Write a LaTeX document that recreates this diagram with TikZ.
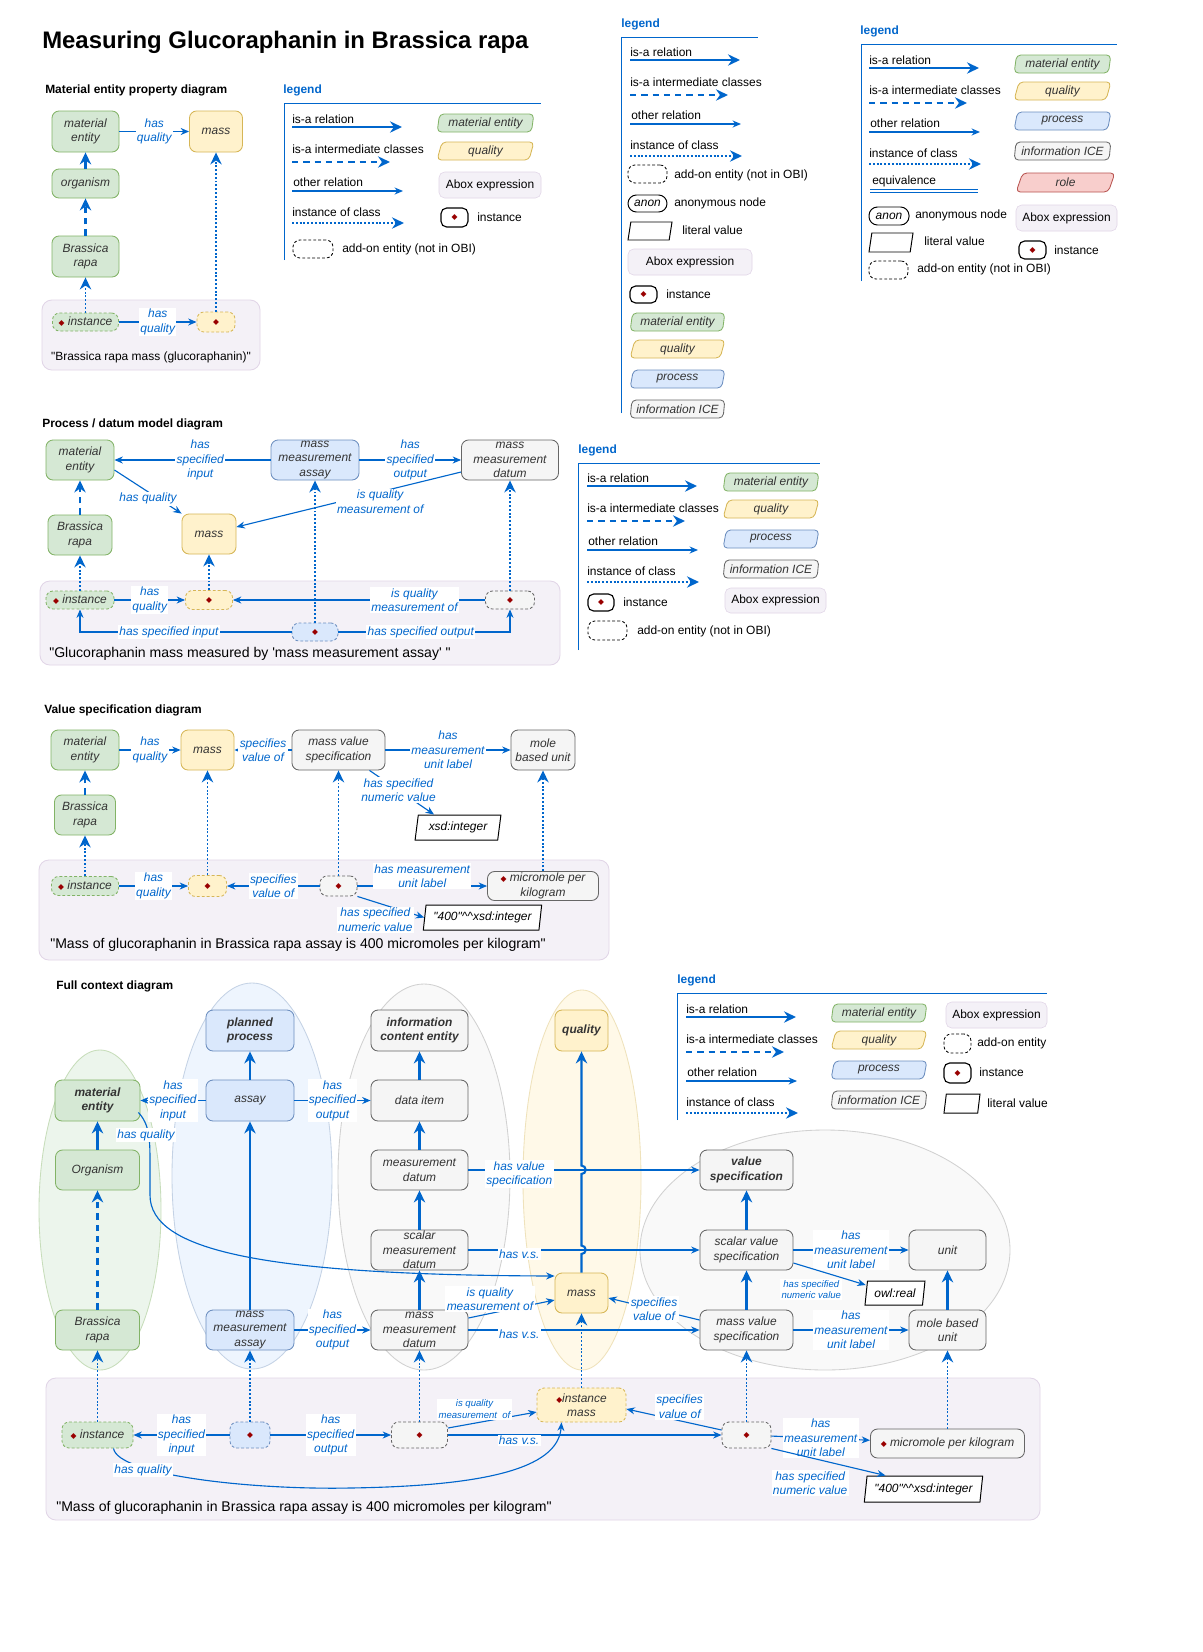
\documentclass[tikz,border=0pt]{standalone}
\usepackage{fontspec}
\setmainfont{Liberation Sans}
\newfontfamily\symf{DejaVu Sans}
\usetikzlibrary{arrows.meta,shapes.geometric,calc}
\definecolor{arrowblue}{HTML}{0066CC}
\definecolor{mefill}{HTML}{D5E8D4}\definecolor{meline}{HTML}{82B366}
\definecolor{qlfill}{HTML}{FFF2CC}\definecolor{qlline}{HTML}{D6B656}
\definecolor{prfill}{HTML}{DAE8FC}\definecolor{prline}{HTML}{6C8EBF}
\definecolor{icfill}{HTML}{F5F5F5}\definecolor{icline}{HTML}{666666}
\definecolor{rofill}{HTML}{F8CECC}\definecolor{roline}{HTML}{B85450}
\definecolor{aboxfill}{HTML}{F4F1F7}\definecolor{aboxline}{HTML}{E1D5E7}
\definecolor{instred}{HTML}{990000}
\definecolor{txt}{HTML}{333333}
\newcommand\ns{\fontsize{8.5}{10.3}\selectfont}
\newcommand\capns{\fontsize{10}{12}\selectfont}
\newcommand\smallns{\fontsize{6.8}{8}\selectfont}
\newcommand\idot{{\symf\fontsize{5.5}{6}\selectfont\textcolor{instred}{◆}}}
\newcommand\dq{\textquotedbl}
\newcommand\legrel[3]{%
  \node[legtxt] (#3isa) at (#1,#2) {is-a relation};
  \coordinate (#3isa0) at (#1,#2+8);
  \draw[isa] (#3isa0) -- ++(110,0);
  \node[legtxt] (#3isai) at (#1,#2+30) {is-a intermediate classes};
  \coordinate (#3isai0) at (#1,#2+43);
  \draw[isai] (#3isai0) -- ++(98,0);
  \node[legtxt] (#3rel) at (#1+1,#2+63) {other relation};
  \coordinate (#3rel0) at (#1,#2+72);
  \draw[rel] (#3rel0) -- ++(111,0);
  \node[legtxt] (#3inst) at (#1,#2+93) {instance of class};
  \coordinate (#3inst0) at (#1,#2+104);
  \draw[inst] (#3inst0) -- ++(112,0);
}
\begin{document}
\begin{tikzpicture}[x=0.025cm, y=-0.025cm,
  box/.style={rounded corners=5pt, inner sep=0pt, align=center, font=\ns\itshape, text=txt, line width=0.6pt},
  wh/.style 2 args={minimum width=#1*0.025cm, minimum height=#2*0.025cm},
  me/.style={box, draw=meline, fill=mefill},
  ql/.style={box, draw=qlline, fill=qlfill},
  pr/.style={box, draw=prline, fill=prfill},
  ic/.style={box, draw=icline, fill=icfill},
  ro/.style={box, draw=roline, fill=rofill},
  ind/.style={dash pattern=on 2pt off 1.5pt},
  legbox/.style={trapezium, trapezium left angle=80, trapezium right angle=100, trapezium stretches=true, rounded corners=3pt},
  lit/.style={trapezium, trapezium left angle=78, trapezium right angle=102, trapezium stretches=true, draw=black, fill=white, inner sep=0pt, font=\ns\itshape, line width=0.7pt},
  litl/.style={lit, trapezium left angle=86, trapezium right angle=94},
  abx/.style={draw=aboxline, fill=aboxfill, rounded corners=4pt, inner sep=0pt, font=\ns},
  ilg/.style={draw=black, rounded corners=4pt, line width=0.8pt, inner sep=0pt},
  adl/.style={draw=black, rounded corners=5pt, line width=0.6pt, dash pattern=on 2pt off 1.5pt, inner sep=0pt},
  anl/.style={draw=black, rounded corners=6pt, line width=0.7pt, inner sep=0pt, font=\ns\itshape},
  abox/.style={draw=aboxline, fill=aboxfill, rounded corners=7pt, line width=0.6pt},
  captxt/.style={anchor=west, inner sep=0pt, font=\capns},
  head/.style={anchor=west, inner sep=0pt, font=\ns\bfseries},
  legt/.style={anchor=west, inner sep=0pt, font=\ns\bfseries, text=arrowblue},
  legtxt/.style={anchor=west, inner sep=0pt, font=\ns},
  legline/.style={draw=arrowblue, line width=0.6pt},
  lab/.style={fill=white, text=arrowblue, font=\ns\itshape, align=center, inner sep=1pt},
  labs/.style={lab, font=\smallns\itshape},
  isa/.style={draw=arrowblue, line width=1.5pt, -{Stealth[length=8.5pt, width=8pt]}},
  isai/.style={isa, dash pattern=on 4.5pt off 3.5pt},
  inst/.style={draw=arrowblue, line width=1.4pt, dash pattern=on 1.4pt off 1.3pt, -{Stealth[length=8.5pt, width=8pt]}},
  rel/.style={draw=arrowblue, line width=0.8pt, -{Stealth[length=6pt, width=5pt]}},
  ell/.style={line width=0.6pt}]
\useasboundingbox (0,0) rectangle (1203,1652);
\fill[white] (0,0) rectangle (1203,1652);
\node[anchor=west, inner sep=0pt, font=\fontsize{17}{20}\selectfont\bfseries] (title) at (42,42) {Measuring Glucoraphanin in Brassica rapa};

% material entity property diagram
\node[head] (h1) at (45,90) {Material entity property diagram};
\draw[abox] (42,300) rectangle (260,370);
\node[me, wh={67}{41}] (d1me) at (85.5,131.5) {material\\entity};
\node[ql, wh={53}{41}] (d1mass) at (216,131.5) {mass};
\node[me, wh={67}{29}] (d1org) at (85.5,183.5) {organism};
\node[me, wh={67}{41}] (d1br) at (85.5,256.5) {Brassica\\rapa};
\node[me, ind, wh={66}{18}] (d1i) at (85.5,322) {\idot\ instance};
\node[ql, ind, wh={38}{20}] (d1q) at (216,322) {\idot};
\draw[isa] (d1org) -- (d1me);
\draw[isai] (d1br) -- (d1org);
\draw[inst] (d1i) -- (d1br);
\draw[inst] (d1q) -- (d1mass);
\draw[rel] (d1me) -- node[lab] {has\\quality} (d1mass);
\draw[rel] (d1i) -- node[lab] {has\\quality} (d1q);
\node[font=\ns, inner sep=0pt] (d1t) at (151,357) {\dq Brassica rapa mass (glucoraphanin)\dq};

\node[legt] (lg1) at (283,90) {legend};
\draw[legline] (284,260) -- (284,103) -- (541,103);
\legrel{292}{119}{l1}
\node[adl, wh={40}{18}] (l1ad) at (313,249) {};
\node[legtxt] (l1adt) at (342,249) {add-on entity (not in OBI)};
\node[me, legbox, wh={97}{18}] (l1me) at (485.5,123) {material entity};
\node[ql, legbox, wh={97}{18}] (l1ql) at (485.5,151) {quality};
\node[abx, wh={102}{26}] (l1ab) at (490,185) {Abox expression};
\node[ilg, wh={27}{19}] (l1in) at (454.5,217.5) {\idot};
\node[legtxt] (l1int) at (477,217) {instance};

% legend, top middle
\node[legt] (lg2) at (621,24) {legend};
\draw[legline] (621,413) -- (621,37) -- (758,37);
\legrel{630}{52}{l2}
\node[adl, wh={39}{18}] (l2ad) at (647.5,174) {};
\node[legtxt] (l2adt) at (674,175) {add-on entity (not in OBI)};
\node[anl, wh={39}{17}] (l2an) at (647.5,203.5) {anon};
\node[legtxt] (l2ant) at (674,203) {anonymous node};
\node[litl, wh={44}{18}] (l2lit) at (650,231) {\phantom{x}};
\node[legtxt] (l2litt) at (682,230) {literal value};
\node[abx, wh={124}{26}] (l2ab) at (690,262) {Abox expression};
\node[ilg, wh={27}{17}] (l2in) at (643.5,294.5) {\idot};
\node[legtxt] (l2int) at (666,294) {instance};
\node[me, legbox, wh={95}{18}] (l2me) at (677.5,322) {material entity};
\node[ql, legbox, wh={95}{18}] (l2ql) at (677.5,349) {quality};
\node[pr, legbox, wh={95}{18}] (l2pr) at (677.5,379) {process};
\node[ic, legbox, wh={95}{18}] (l2ic) at (677.5,409) {information ICE};

% legend, top right
\node[legt] (lg3) at (860,31) {legend};
\draw[legline] (861,281) -- (861,44) -- (1117,44);
\legrel{869}{60}{l3}
\node[legtxt] (l3eq) at (872,181) {equivalence};
\coordinate (l3eq0) at (870,191);
\draw[draw=arrowblue, line width=0.6pt, double distance=1.8pt] (l3eq0) -- ++(108,0);
\node[me, legbox, wh={97}{18}] (l3me) at (1062.5,64) {material entity};
\node[ql, legbox, wh={97}{18}] (l3ql) at (1062.5,91) {quality};
\node[pr, legbox, wh={97}{18}] (l3pr) at (1062.5,121) {process};
\node[ic, legbox, wh={97}{18}] (l3ic) at (1062.5,151) {information ICE};
\node[ro, legbox, wh={99}{19}] (l3ro) at (1065.5,182.5) {role};
\node[anl, wh={40}{18}] (l3an) at (889,216) {anon};
\node[legtxt] (l3ant) at (915,215) {anonymous node};
\node[abx, wh={101}{26}] (l3ab) at (1066.5,218) {Abox expression};
\node[litl, wh={44}{19}] (l3lit) at (891,242.5) {\phantom{x}};
\node[legtxt] (l3litt) at (924,241) {literal value};
\node[ilg, wh={27}{18}] (l3in) at (1032.5,250) {\idot};
\node[legtxt] (l3int) at (1054,250) {instance};
\node[adl, wh={39}{18}] (l3ad) at (888.5,270) {};
\node[legtxt] (l3adt) at (917,269) {add-on entity (not in OBI)};

% process / datum model diagram
\node[head] (h2) at (42,424) {Process / datum model diagram};
\draw[abox] (40,581) rectangle (560,665);
\node[me, wh={68}{40}] (d2me) at (80,460) {material\\entity};
\node[pr, wh={88}{40}] (d2mma) at (315,460) {mass\\measurement\\assay};
\node[ic, wh={97}{40}] (d2mmd) at (510,460) {mass\\measurement\\datum};
\node[me, wh={64}{40}] (d2br) at (80,535) {Brassica\\rapa};
\node[ql, wh={54}{40}] (d2mass) at (209,534) {mass};
\node[me, ind, wh={68}{18}] (d2i) at (80,600) {\idot\ instance};
\node[ql, ind, wh={47}{19}] (d2qi) at (209,600) {\idot};
\node[ic, ind, wh={49}{18}] (d2di) at (510,600) {\idot};
\node[pr, ind, wh={46}{18}] (d2ai) at (315,632) {\idot};
\draw[isai] (d2br) -- (d2me);
\draw[inst] (d2i) -- (d2br);
\draw[inst] (d2qi) -- (d2mass);
\draw[inst] (d2ai) -- (d2mma);
\draw[inst] (d2di) -- (d2mmd);
\draw[rel] (d2mma) -- node[lab, pos=0.45] {has\\specified\\input} (d2me);
\draw[rel] (d2mma) -- node[lab] {has\\specified\\output} (d2mmd);
\draw[rel] ($(d2me.east)+(0,10)$) -- node[lab, yshift=-5pt] {has quality} (d2mass.north west);
\draw[rel] ($(d2mmd.west)+(0,12)$) -- node[lab, pos=0.36, yshift=-7pt] {is quality\\measurement of} ($(d2mass.east)+(0,-7)$);
\draw[rel] (d2i) -- node[lab] {has\\quality} (d2qi);
\draw[rel] (d2di) -- node[lab, pos=0.28] {is quality\\measurement of} (d2qi);
\draw[rel] (d2ai) -| node[lab, pos=0.29] {has specified input} (d2i);
\draw[rel] (d2ai) -| node[lab, pos=0.24] {has specified output} (d2di);
\node[captxt] (d2t) at (49,654) {\dq Glucoraphanin mass measured by \textquotesingle mass measurement assay\textquotesingle\ \dq};

\node[legt] (lg4) at (578,450) {legend};
\draw[legline] (578,650) -- (578,463) -- (820,463);
\legrel{587}{478}{l4}
\node[ilg, wh={26}{17}] (l4in) at (601,602.5) {\idot};
\node[legtxt] (l4int) at (623,602) {instance};
\node[adl, wh={39}{19}] (l4ad) at (607.5,630.5) {};
\node[legtxt] (l4adt) at (637,631) {add-on entity (not in OBI)};
\node[me, legbox, wh={96}{18}] (l4me) at (771,482) {material entity};
\node[ql, legbox, wh={96}{18}] (l4ql) at (771,509) {quality};
\node[pr, legbox, wh={96}{18}] (l4pr) at (771,539) {process};
\node[ic, legbox, wh={96}{18}] (l4ic) at (771,569) {information ICE};
\node[abx, wh={101}{25}] (l4ab) at (775.5,600.5) {Abox expression};

% value specification diagram
\node[head] (h3) at (44,710) {Value specification diagram};
\draw[abox] (39,860) rectangle (609,960);
\node[me, wh={68}{40}] (d3me) at (85,750) {material\\entity};
\node[ql, wh={53}{40}] (d3mass) at (207.5,750) {mass};
\node[ic, wh={93}{40}] (d3mvs) at (338.5,750) {mass value\\specification};
\node[ic, wh={64}{40}] (d3mbu) at (543,750) {mole\\based unit};
\node[me, wh={61}{40}] (d3br) at (85,815) {Brassica\\rapa};
\node[lit, wh={86}{25}] (d3xsd) at (458,827.5) {xsd:integer};
\node[me, ind, wh={67}{19}] (d3i) at (85,886) {\idot\ instance};
\node[ql, ind, wh={38}{21}] (d3qi) at (207.5,886) {\idot};
\node[ic, ind, wh={37}{20}] (d3vi) at (338.5,886) {\idot};
\node[ic, wh={111}{29}] (d3mic) at (543,886) {\idot\ micromole per\\kilogram};
\node[lit, wh={119}{25}] (d3lit) at (482.5,917.5) {\dq 400\dq\textasciicircum\textasciicircum xsd:integer};
\draw[isai] (d3br) -- (d3me);
\draw[inst] (d3i) -- (d3br);
\draw[inst] (d3qi) -- (d3mass);
\draw[inst] (d3vi) -- (d3mvs);
\draw[inst] (d3mic) -- (d3mbu);
\draw[rel] (d3me) -- node[lab] {has\\quality} (d3mass);
\draw[rel] (d3mvs) -- node[lab] {specifies\\value of} (d3mass);
\draw[rel] (d3mvs) -- node[lab] {has\\measurement\\unit label} (d3mbu);
\draw[rel] ($(d3mvs.south)+(31,0)$) -- node[lab, pos=0.45] {has specified\\numeric value} ($(d3xsd.north)+(-24,0)$);
\draw[rel] (d3i) -- node[lab] {has\\quality} (d3qi);
\draw[rel] (d3vi) -- node[lab] {specifies\\value of} (d3qi);
\draw[rel] (d3vi) -- node[lab, yshift=7pt] {has measurement\\unit label} (d3mic);
\draw[rel] (d3vi.south east) -- node[lab, xshift=-11pt, yshift=-9pt] {has specified\\numeric value} (d3lit.west);
\node[captxt] (d3t) at (50,945) {\dq Mass of glucoraphanin in Brassica rapa assay is 400 micromoles per kilogram\dq};

% full context diagram
\node[head] (h4) at (56,986) {Full context diagram};
\draw[ell, fill=mefill!45, draw=meline!45] (100,1210) ellipse [x radius=61, y radius=160];
\draw[ell, fill=prfill!45, draw=prline!40] (252,1176) ellipse [x radius=80, y radius=193];
\draw[ell, fill=icfill!60, draw=icline!30] (424,1177) ellipse [x radius=86, y radius=193];
\draw[ell, fill=qlfill!45, draw=qlline!40] (582,1180) ellipse [x radius=59, y radius=190];
\draw[ell, fill=icfill!60, draw=icline!30] (825,1250) ellipse [x radius=185, y radius=120];
\draw[abox] (46,1378) rectangle (1040,1520);

\node[me, wh={85}{41}, font=\ns\bfseries\itshape] (fme) at (97.5,1100.5) {material\\entity};
\node[me, wh={84}{40}] (forg) at (97.5,1170) {Organism};
\node[me, wh={84}{40}] (fbr) at (97.5,1330) {Brassica\\rapa};
\node[pr, wh={88}{41}, font=\ns\bfseries\itshape] (fpp) at (250,1030.5) {planned\\process};
\node[pr, wh={88}{41}] (fas) at (250,1100.5) {assay};
\node[pr, wh={88}{40}] (fmma) at (250,1330) {mass\\measurement\\assay};
\node[ic, wh={97}{41}, font=\ns\bfseries\itshape] (fice) at (419.5,1030.5) {information\\content entity};
\node[ic, wh={97}{41}] (fdi) at (419.5,1100.5) {data item};
\node[ic, wh={97}{40}] (fmd) at (419.5,1170) {measurement\\datum};
\node[ic, wh={97}{40}] (fsmd) at (419.5,1250) {scalar\\measurement\\datum};
\node[ic, wh={97}{40}] (fmmd) at (419.5,1330) {mass\\measurement\\datum};
\node[ql, wh={53}{41}, font=\ns\bfseries\itshape] (fq) at (581.5,1030.5) {quality};
\node[ql, wh={53}{40}] (fmass) at (581.5,1293) {mass};
\node[ic, wh={93}{40}, font=\ns\bfseries\itshape] (fvs) at (746.5,1170) {value\\specification};
\node[ic, wh={93}{40}] (fsvs) at (746.5,1250) {scalar value\\specification};
\node[ic, wh={93}{40}] (fmvs) at (746.5,1330) {mass value\\specification};
\node[ic, wh={77}{40}] (funit) at (947.5,1250) {unit};
\node[ic, wh={77}{40}] (fmbu) at (947.5,1330) {mole based\\unit};
\node[lit, wh={60}{24}] (fowl) at (895,1293) {owl:real};

\node[me, ind, wh={71}{26}] (fi) at (97.5,1435) {\idot\ instance};
\node[pr, ind, wh={40}{26}] (fai) at (250,1435) {\idot};
\node[ic, ind, wh={56}{26}] (fdi2) at (419.5,1435) {\idot};
\node[ql, ind, wh={89}{34}] (fqi) at (581.5,1405) {\idot instance\\mass};
\node[ic, ind, wh={49}{26}] (fvi) at (746.5,1435) {\idot};
\node[ic, wh={154}{29}] (fmic) at (947.5,1443.5) {\idot\ micromole per kilogram};
\node[lit, wh={119}{26}] (flit) at (923.5,1489) {\dq 400\dq\textasciicircum\textasciicircum xsd:integer};

\draw[isa] (forg) -- (fme);
\draw[isai] (fbr) -- (forg);
\draw[isa] (fas) -- (fpp);
\draw[isa] (fmma) -- (fas);
\draw[isa] (fdi) -- (fice);
\draw[isa] (fmd) -- (fdi);
\draw[isa] (fsmd) -- (fmd);
\draw[isa] (fmmd) -- (fsmd);
\draw[isa] (fsvs) -- (fvs);
\draw[isa] (fmvs) -- (fsvs);
\draw[isa] (fmbu) -- (funit);
\draw[isa] (fmass.north) -- (fmass.north |- 0,1254) arc[start angle=-90, end angle=90, radius=3pt]
  -- (fmass.north |- 0,1174) arc[start angle=-90, end angle=90, radius=3pt] -- (fq.south);
\draw[rel] (fas) -- node[lab] {has\\specified\\input} (fme);
\draw[rel] (fas) -- node[lab] {has\\specified\\output} (fdi);
\draw[rel] (fmma) -- node[lab] {has\\specified\\output} (fmmd);
\draw[rel] (fmd) -- node[lab, pos=0.22, yshift=-3pt] {has value\\specification} (fvs);
\draw[rel] (fsmd) -- node[lab, pos=0.22, yshift=-3pt] {has v.s.} (fsvs);
\draw[rel] (fmmd) -- node[lab, pos=0.22, yshift=-3pt] {has v.s.} (fmvs);
\draw[rel] ($(fme.east)+(-2,12)$) .. controls (150,1125) and (150,1140) .. (150,1165)
  -- (150,1195) .. controls (150,1250) and (260,1275) .. ($(fmass.west)+(0,-17)$);
\node[lab] (fhq) at (146,1135) {has quality};
\draw[rel] ($(fmmd.east)+(0,-12)$) -- node[lab, pos=0.25, yshift=10pt] {is quality\\measurement of} ($(fmass.west)+(0,7)$);
\draw[rel] ($(fmvs.west)+(0,-10)$) -- node[lab] {specifies\\value of} ($(fmass.east)+(0,5)$);
\draw[rel] (fsvs) -- node[lab] {has\\measurement\\unit label} (funit);
\draw[rel] ($(fsvs.east)+(0,13)$) -- node[labs, xshift=-13pt, yshift=-11pt] {has specified\\numeric value} ($(fowl.west)+(0,-8)$);
\draw[rel] (fmvs) -- node[lab] {has\\measurement\\unit label} (fmbu);

\draw[inst] (fi) -- (fbr);
\draw[inst] (fai) -- (fmma);
\draw[inst] (fdi2) -- (fmmd);
\draw[inst] (fqi) -- (fmass);
\draw[inst] (fvi) -- (fmvs);
\draw[inst] (fmic) -- (fmbu);
\draw[rel] (fai) -- node[lab] {has\\specified\\input} (fi);
\draw[rel] (fai) -- node[lab] {has\\specified\\output} (fdi2);
\draw[rel] ($(fdi2.east)+(0,-7)$) -- node[labs, pos=0.3, yshift=10pt] {is quality\\measurement\ \ of} ($(fqi.west)+(0,7)$);
\draw[rel] (fdi2) -- node[lab, pos=0.26, yshift=-4pt] {has v.s.} (fvi);
\draw[rel] ($(fvi.west)+(0,-5)$) -- node[lab, pos=0.44, yshift=10pt] {specifies\\value of} ($(fqi.east)+(0,4)$);
\draw[rel] (fvi) -- node[lab] {has\\measurement\\unit label} (fmic);
\draw[rel] (fvi.south east) -- node[lab, xshift=-13pt, yshift=-15pt] {has specified\\numeric value} ($(flit.north)+(-38,0)$);
\draw[rel] ($(fi.south)+(16,0)$) .. controls (118,1475) and (250,1490) .. (350,1488)
  .. controls (480,1486) and (558,1470) .. ($(fqi.south)+(-20,0)$);
\node[lab] (fhq2) at (143,1470) {has quality};
\node[captxt] (ft) at (56,1508) {\dq Mass of glucoraphanin in Brassica rapa assay is 400 micromoles per kilogram\dq};

\node[legt] (lg5) at (677,980) {legend};
\draw[legline] (677,1120) -- (677,993) -- (1047,993);
\legrel{686}{1009}{l5}
\node[me, legbox, wh={96}{18}] (l5me) at (879,1013) {material entity};
\node[ql, legbox, wh={96}{18}] (l5ql) at (879,1040) {quality};
\node[pr, legbox, wh={96}{18}] (l5pr) at (879,1070) {process};
\node[ic, legbox, wh={96}{18}] (l5ic) at (879,1100) {information ICE};
\node[abx, wh={101}{26}] (l5ab) at (996.5,1015) {Abox expression};
\node[adl, wh={27}{19}] (l5ad) at (957.5,1043.5) {};
\node[legtxt] (l5adt) at (977,1043) {add-on entity};
\node[ilg, wh={27}{20}] (l5in) at (957.5,1073) {\idot};
\node[legtxt] (l5int) at (979,1072) {instance};
\node[litl, wh={36}{19}] (l5lit) at (962,1103.5) {\phantom{x}};
\node[legtxt] (l5litt) at (987,1103) {literal value};
\end{tikzpicture}
\end{document}
